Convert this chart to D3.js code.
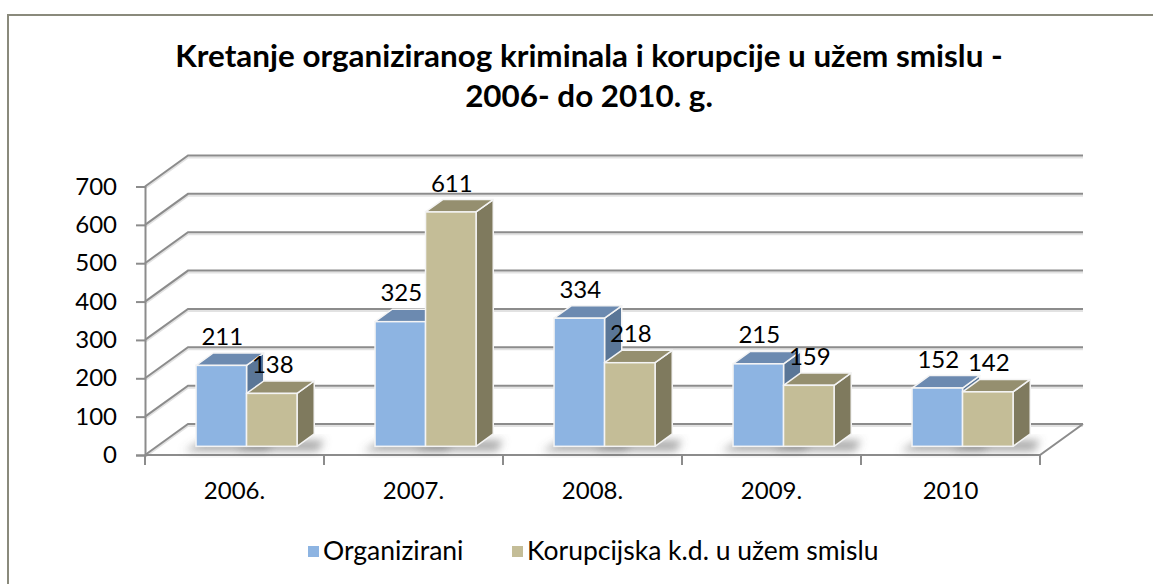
<!DOCTYPE html>
<html>
<head>
<meta charset="utf-8">
<script src="https://cdn.jsdelivr.net/npm/d3@7"></script>
<style>
  body { margin: 0; background: #fff; }
  text { font-family: Lato, "Open Sans", sans-serif; fill: #000; }
</style>
</head>
<body>
<div id="chart"></div>
<script>
// data
var years = ["2006.", "2007.", "2008.", "2009.", "2010"];
var organizirani = [211, 325, 334, 215, 152];
var korupcija = [138, 611, 218, 159, 142];
var seriesNames = ["Organizirani", "Korupcijska k.d. u užem smislu"];
var yTicks = [0, 100, 200, 300, 400, 500, 600, 700];
var titleLines = ["Kretanje organiziranog kriminala i korupcije u užem smislu -", "2006- do 2010. g."];

var W = 1153, H = 584;
var svg = d3.select("#chart").append("svg")
  .attr("width", W)
  .attr("height", H);

// colours per series: front, top, side
var pal = [
  {front: "#8db4e2", top: "#6c8ab0", side: "#5a7697"},
  {front: "#c4bd97", top: "#958f6f", side: "#7f7a5e"}
];

// 3d depth of the floor
var DX = 43, DY = -31;
var f0 = 0.28, fb = 0.4;   // bar start depth and bar depth (fractions)

var x = d3.scaleBand().domain(years).range([145, 1040]);
var y = d3.scaleLinear().domain([0, 700]).range([455, 186.5]);

var defs = svg.append("defs");
defs.append("filter").attr("id", "blur")
  .attr("x", "-50%").attr("y", "-50%").attr("width", "200%").attr("height", "200%")
  .append("feGaussianBlur").attr("stdDeviation", 4);

// chart border
svg.append("rect")
  .attr("x", 8).attr("y", 15)
  .attr("width", W).attr("height", H)
  .attr("fill", "#fff")
  .attr("stroke", "#8a8a7c")
  .attr("stroke-width", 2);

// title
var title = svg.append("g");
titleLines.forEach(function(t, i) {
  title.append("text")
    .attr("x", 589)
    .attr("y", 67 + i * 40)
    .attr("text-anchor", "middle")
    .attr("font-weight", "bold")
    .attr("font-size", 30)
    .text(t);
});
// fit first line to reference width
var t0 = title.select("text").node();
var wid = t0.getComputedTextLength();
title.selectAll("text").attr("font-size", 30 * 828 / wid);

// walls: left wall diagonals + back gridlines
var grid = svg.append("g");
yTicks.forEach(function(v) {
  var yf = y(v), yb = y(v) + DY;
  var pts = [[145, yf], [145 + DX, yb], [x.range()[1] + DX, yb]];
  grid.append("path")
    .attr("d", d3.line()(pts.map(function(p) { return [p[0], p[1] + 2]; })))
    .attr("fill", "none").attr("stroke", "#e2e2e2").attr("stroke-width", 2);
  grid.append("path")
    .attr("d", d3.line()(pts))
    .attr("fill", "none").attr("stroke", "#8c8c8c").attr("stroke-width", 2);
});

// floor front + right edge
var x1 = x.range()[1];
grid.append("path")
  .attr("d", d3.line()([[145, y(0)], [x1, y(0)], [x1 + DX, y(0) + DY]]))
  .attr("fill", "none").attr("stroke", "#8c8c8c").attr("stroke-width", 2);

// y axis
var yAxis = d3.axisLeft(y).tickValues(yTicks).tickSize(9).tickPadding(19);
var gy = svg.append("g").attr("transform", "translate(145,0)").call(yAxis);
gy.select(".domain").attr("stroke", "#8c8c8c").attr("stroke-width", 2);
gy.selectAll(".tick line").attr("stroke", "#8c8c8c").attr("stroke-width", 2);
gy.selectAll(".tick text").attr("font-size", 24).attr("font-family", "Lato").attr("fill", "#000");

// x axis ticks at band boundaries
var xb = years.map(function(c) { return x(c); }).concat([x1]);
xb.forEach(function(px) {
  svg.append("line")
    .attr("x1", px).attr("x2", px).attr("y1", y(0)).attr("y2", y(0) + 10)
    .attr("stroke", "#8c8c8c").attr("stroke-width", 2);
});
svg.append("g").selectAll("text")
  .data(years).enter().append("text")
  .attr("x", function(d) { return x(d) + x.bandwidth() / 2; })
  .attr("y", 499)
  .attr("text-anchor", "middle")
  .attr("font-size", 24)
  .text(function(d) { return d; });

// bars
var barW = 50.5;
var bars = [];
years.forEach(function(c, i) {
  var cx = x(c) + x.bandwidth() / 2 + f0 * DX;
  [organizirani[i], korupcija[i]].forEach(function(v, s) {
    var left = cx - barW + s * barW;
    bars.push({v: v, s: s, x0: left, x1: left + barW,
      yTop: y(v) + f0 * DY, yBase: y(0) + f0 * DY});
  });
});
var ddx = fb * DX, ddy = fb * DY;

// floor shadows
var shadows = svg.append("g").attr("filter", "url(#blur)");
bars.forEach(function(b) {
  shadows.append("path")
    .attr("d", d3.line()([[b.x0 - 12, b.yBase + 5], [b.x1 + ddx + 4, b.yBase + 5],
      [b.x1 + ddx + 10, b.yBase + ddy + 6], [b.x0 + ddx - 10, b.yBase + ddy + 6]]) + "Z")
    .attr("fill", "#666")
    .attr("opacity", 0.55);
});

var bg = svg.append("g");
bars.forEach(function(b) {
  var c = pal[b.s];
  // side
  bg.append("path")
    .attr("d", d3.line()([[b.x1, b.yTop], [b.x1 + ddx, b.yTop + ddy], [b.x1 + ddx, b.yBase + ddy], [b.x1, b.yBase]]) + "Z")
    .attr("fill", c.side).attr("stroke", "#f4f4f4").attr("stroke-width", 1.5).attr("stroke-linejoin", "round");
  // top
  bg.append("path")
    .attr("d", d3.line()([[b.x0, b.yTop], [b.x1, b.yTop], [b.x1 + ddx, b.yTop + ddy], [b.x0 + ddx, b.yTop + ddy]]) + "Z")
    .attr("fill", c.top).attr("stroke", "#f4f4f4").attr("stroke-width", 1.5).attr("stroke-linejoin", "round");
  // front
  bg.append("rect")
    .attr("x", b.x0).attr("y", b.yTop)
    .attr("width", b.x1 - b.x0).attr("height", b.yBase - b.yTop)
    .attr("fill", c.front).attr("stroke", "#f4f4f4").attr("stroke-width", 1.5);
});

// data labels
svg.append("g").selectAll("text")
  .data(bars).enter().append("text")
  .attr("x", function(d) { return (d.x0 + d.x1) / 2 + 1; })
  .attr("y", function(d) { return d.yTop + ddy - 8; })
  .attr("text-anchor", "middle")
  .attr("font-size", 24)
  .text(function(d) { return d.v; });

// legend
var legX = [308, 512];
var leg = svg.append("g");
seriesNames.forEach(function(n, i) {
  leg.append("rect")
    .attr("x", legX[i]).attr("y", 546)
    .attr("width", 11).attr("height", 11)
    .attr("fill", pal[i].front);
  leg.append("text")
    .attr("x", legX[i] + 15).attr("y", 560)
    .attr("font-size", 26.5)
    .text(n);
});
</script>
</body>
</html>
